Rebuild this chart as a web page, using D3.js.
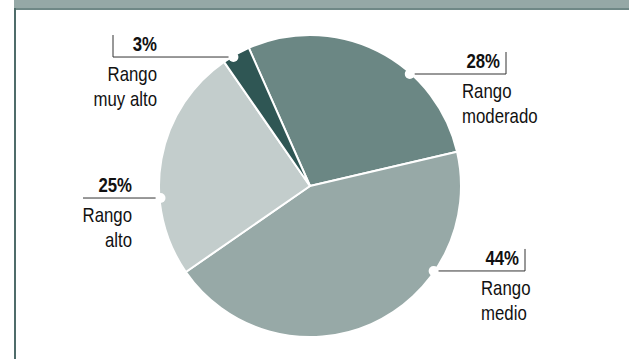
<!DOCTYPE html>
<html>
<head>
<meta charset="utf-8">
<script src="https://cdn.jsdelivr.net/npm/d3@7"></script>
<style>
  body { margin: 0; background: #fff; }
  svg text { font-family: "Liberation Sans", Arial, sans-serif; font-size: 20px; fill: #111; }
  svg text.pct { font-weight: bold; }
</style>
</head>
<body>
<svg id="chart" width="629" height="359"></svg>
<script>
// data
var categories = ['Rango moderado', 'Rango medio', 'Rango alto', 'Rango muy alto'];
var values = [28, 44, 25, 3];
var pctLabels = ['28%', '44%', '25%', '3%'];
var nameLines = [['Rango', 'moderado'], ['Rango', 'medio'], ['Rango', 'alto'], ['Rango', 'muy alto']];
var colors = ['#6b8784', '#97a9a7', '#c3cdcc', '#2f5654'];

var width = 629, height = 359;
var cx = 310, cy = 186, radius = 151;
var toRad = Math.PI / 180;
var narrow = 0.84; // squeeze text to look like a condensed face

var svg = d3.select('#chart');

// frame: grey band on top, thin rule on the left
svg.append('rect').attr('x', 14).attr('y', 0).attr('width', width - 14).attr('height', 8).style('fill', '#95a8a6');
svg.append('rect').attr('x', 14).attr('y', 8).attr('width', width - 14).attr('height', 2).style('fill', '#6f8886');
svg.append('rect').attr('x', 14).attr('y', 8).attr('width', 2).attr('height', height - 8).style('fill', '#4f6c6a');

var pie = d3.pie().sort(null).value(function(d){ return d; })
  .startAngle(-23.9 * toRad).endAngle((360 - 23.9) * toRad);
var arc = d3.arc().innerRadius(0).outerRadius(radius);

var g = svg.append('g').attr('transform', 'translate(' + cx + ',' + cy + ')');
g.selectAll('.slice')
  .data(pie(values))
  .enter()
  .append('path')
  .attr('class', 'slice')
  .attr('d', arc)
  .style('fill', function(d, i){ return colors[i]; })
  .style('stroke', '#fff')
  .style('stroke-width', 2)
  .style('stroke-linejoin', 'round');

// leader layout (angle of the dot on the rim, where the rule ends, tick, text column)
var layout = [
  {angle: 41.7, lineX: 506, tick: true, side: 'right'},
  {angle: 124.5, lineX: 525, tick: true, side: 'right'},
  {angle: 265.4, lineX: 83, tick: false, side: 'left', textX: 132},
  {angle: -30.7, lineX: 113, tick: true, side: 'left', textX: 157}
];

function addText(sel, x, y, anchor, txt, cls){
  sel.append('g')
    .attr('transform', 'translate(' + x + ',' + y + ') scale(' + narrow + ',1)')
    .append('text')
    .attr('class', cls || null)
    .attr('text-anchor', anchor)
    .text(txt);
}

layout.forEach(function(l, i){
  var a = l.angle * toRad;
  var px = cx + (radius - 1) * Math.sin(a);
  var py = cy - (radius - 1) * Math.cos(a);
  var lab = svg.append('g').attr('class', 'label');

  lab.append('line')
    .attr('x1', px).attr('y1', py).attr('x2', l.lineX).attr('y2', py)
    .style('stroke', '#333').style('stroke-width', 1);
  if (l.tick) {
    lab.append('line')
      .attr('x1', l.lineX).attr('y1', py - 22).attr('x2', l.lineX).attr('y2', py)
      .style('stroke', '#333').style('stroke-width', 1);
  }
  lab.append('circle').attr('cx', px).attr('cy', py).attr('r', 5).style('fill', '#fff');

  var pctX, nameX, nameAnchor;
  if (l.side === 'right') {
    pctX = l.lineX - 6; nameX = l.lineX - 44; nameAnchor = 'start';
  } else {
    pctX = l.textX; nameX = l.textX; nameAnchor = 'end';
  }
  addText(lab, pctX, py - 6, 'end', pctLabels[i], 'pct');
  nameLines[i].forEach(function(t, j){
    addText(lab, nameX, py + 24 + j * 25, nameAnchor, t);
  });
});
</script>
</body>
</html>
